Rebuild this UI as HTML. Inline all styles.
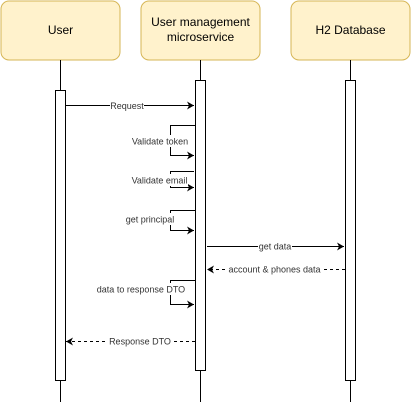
<!DOCTYPE html>
<html><head><meta charset="utf-8"><style>
html,body{margin:0;padding:0;background:#fff;}
</style></head><body>
<svg width="412" height="402" xmlns="http://www.w3.org/2000/svg" font-family="Liberation Sans, Arial, sans-serif">
<defs>
<marker id="a" markerWidth="8" markerHeight="8" refX="7" refY="4" orient="auto" markerUnits="userSpaceOnUse"><path d="M0,0 L7,4 L0,8 L2,4 z" fill="#000"/></marker>
</defs>
<g fill="#fff2cc" stroke="#d6b656">
<rect x="1" y="1" width="119" height="59" rx="8"/>
<rect x="141" y="1" width="119" height="59" rx="8"/>
<rect x="291" y="1" width="119" height="59" rx="8"/>
</g>
<g font-size="12" fill="#000" text-anchor="middle">
<text x="60.5" y="34">User</text>
<text x="200.5" y="26">User management</text>
<text x="200.5" y="41">microservice</text>
<text x="350.5" y="34">H2 Database</text>
</g>
<g stroke="#000" fill="#fff">
<line x1="60.5" y1="60" x2="60.5" y2="402"/>
<line x1="200.5" y1="60" x2="200.5" y2="402"/>
<line x1="350.5" y1="60" x2="350.5" y2="402"/>
<rect x="55.5" y="90.5" width="10" height="290"/>
<rect x="195.5" y="80.5" width="10" height="290"/>
<rect x="345.5" y="80.5" width="10" height="300"/>
</g>
<g stroke="#000" fill="none">
<line x1="65.5" y1="105.5" x2="194" y2="105.5" marker-end="url(#a)"/>
<polyline points="195,125.5 170.5,125.5 170.5,155.5 194,155.5" marker-end="url(#a)"/>
<polyline points="194,171.5 170.5,171.5 170.5,187.5 194,187.5" marker-end="url(#a)"/>
<polyline points="195,210.5 170.5,210.5 170.5,230.5 194,230.5" marker-end="url(#a)"/>
<line x1="207" y1="246.5" x2="344" y2="246.5" marker-end="url(#a)"/>
<line x1="345" y1="269.5" x2="207" y2="269.5" stroke-dasharray="3,3" marker-end="url(#a)"/>
<polyline points="195,280.5 170.5,280.5 170.5,304.5 194,304.5" marker-end="url(#a)"/>
<line x1="195" y1="341.5" x2="66" y2="341.5" stroke-dasharray="3,3" marker-end="url(#a)"/>
</g>
<g font-size="9" fill="#333" text-anchor="middle">
<rect x="110" y="99" width="34" height="12" fill="#fff"/>
<text x="127" y="109">Request</text>
<rect x="131" y="135" width="59" height="12" fill="#fff"/>
<text x="160" y="144.5">Validate token</text>
<rect x="131" y="174" width="57" height="12" fill="#fff"/>
<text x="159.5" y="183.5">Validate email</text>
<rect x="125" y="213" width="50" height="12" fill="#fff"/>
<text x="150" y="222.5">get principal</text>
<rect x="258" y="240" width="34" height="12" fill="#fff"/>
<text x="275" y="249.5">get data</text>
<rect x="228" y="263" width="93" height="12" fill="#fff"/>
<text x="274.5" y="272.5">account &amp; phones data</text>
<rect x="96" y="283" width="90" height="12" fill="#fff"/>
<text x="141" y="292.5">data to response DTO</text>
<rect x="108" y="335" width="64" height="12" fill="#fff"/>
<text x="140" y="344.5">Response DTO</text>
</g>
</svg>
</body></html>
